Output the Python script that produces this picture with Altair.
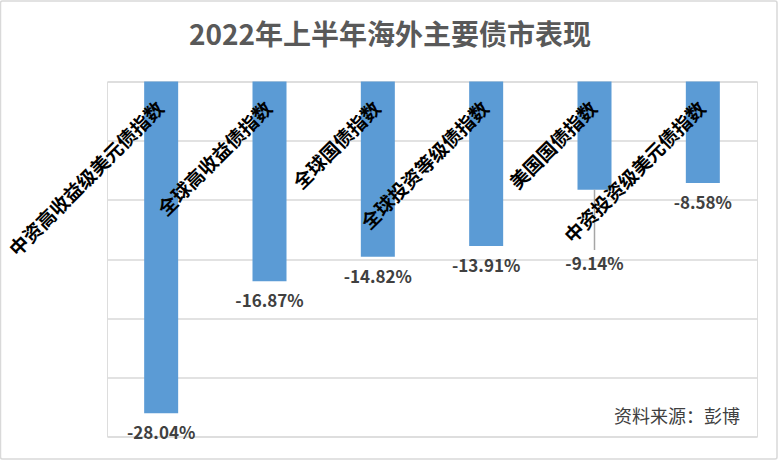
import altair as alt
import pandas as pd

categories = ["中资高收益级美元债指数", "全球高收益债指数", "全球国债指数",
              "全球投资等级债指数", "美国国债指数", "中资投资级美元债指数"]
values = [-28.04, -16.87, -14.82, -13.91, -9.14, -8.58]
labels = ["-28.04%", "-16.87%", "-14.82%", "-13.91%", "-9.14%", "-8.58%"]
y_ticks = [0, -5, -10, -15, -20, -25, -30]
title_text = "2022年上半年海外主要债市表现"
source_text = "资料来源：彭博"
leader_category = "美国国债指数"

df = pd.DataFrame({"cat": categories, "val": values, "lab": labels})

FONT = "Noto Sans CJK SC"
W, H = 650, 355

x_enc = alt.X("cat:N", sort=categories, axis=None,
              scale=alt.Scale(paddingInner=0, paddingOuter=0))
y_scale = alt.Scale(domain=[-30, 0], nice=False, zero=False)

base = alt.Chart(df)

bars = base.mark_bar(size=34, color="#5B9BD5").encode(
    x=x_enc,
    y=alt.Y("val:Q", scale=y_scale,
            axis=alt.Axis(values=y_ticks, labels=False, ticks=False, domain=False,
                          grid=True, gridColor="#D9D9D9", gridWidth=1.5, title=None)),
    y2=alt.datum(0),
)

cat_labels = base.mark_text(
    angle=315, align="right", baseline="middle", font=FONT, fontSize=19,
    fontWeight="bold", color="#000000", dx=-17, dy=17,
).encode(x=x_enc, y=alt.datum(0), text="cat:N")

val_labels = base.transform_filter(
    alt.datum.cat != leader_category
).mark_text(
    baseline="middle", align="center", font=FONT, fontSize=17,
    fontWeight="bold", color="#404040", dy=21,
).encode(x=x_enc, y=alt.Y("val:Q", scale=y_scale), text="lab:N")

leader_rule = base.transform_filter(
    alt.datum.cat == leader_category
).mark_rule(color="#A6A6A6", strokeWidth=1.5).encode(
    x=x_enc, y=alt.Y("val:Q", scale=y_scale), y2=alt.value(168.5)
)

leader_label = base.transform_filter(
    alt.datum.cat == leader_category
).mark_text(
    baseline="middle", align="center", font=FONT, fontSize=17,
    fontWeight="bold", color="#404040", dy=75.5,
).encode(x=x_enc, y=alt.Y("val:Q", scale=y_scale), text="lab:N")

one = alt.Chart(pd.DataFrame({"t": [source_text], "title": [title_text]}))

source = one.mark_text(
    align="right", baseline="middle", font=FONT, fontSize=18, color="#404040",
).encode(x=alt.value(633), y=alt.value(336.5), text="t:N")

title = one.mark_text(
    align="center", baseline="middle", font=FONT, fontSize=28, fontWeight="bold",
    color="#595959",
).encode(x=alt.value(283), y=alt.value(-45), text="title:N")

border = one.mark_rect(filled=False, stroke="#D9D9D9", strokeWidth=1.5,
                       cornerRadius=2).encode(
    x=alt.value(-106.5), x2=alt.value(670), y=alt.value(-80.5), y2=alt.value(377.5)
)

chart = alt.layer(
    border, bars, leader_rule, cat_labels, val_labels, leader_label, source, title
).properties(
    width=W, height=H,
    autosize=alt.AutoSizeParams(type="none"),
    padding={"left": 107, "top": 81.5, "right": 24, "bottom": 24},
).configure_view(stroke=None).configure(background="white")

chart.save("out.html", embed_options={"renderer": "svg", "actions": False})
